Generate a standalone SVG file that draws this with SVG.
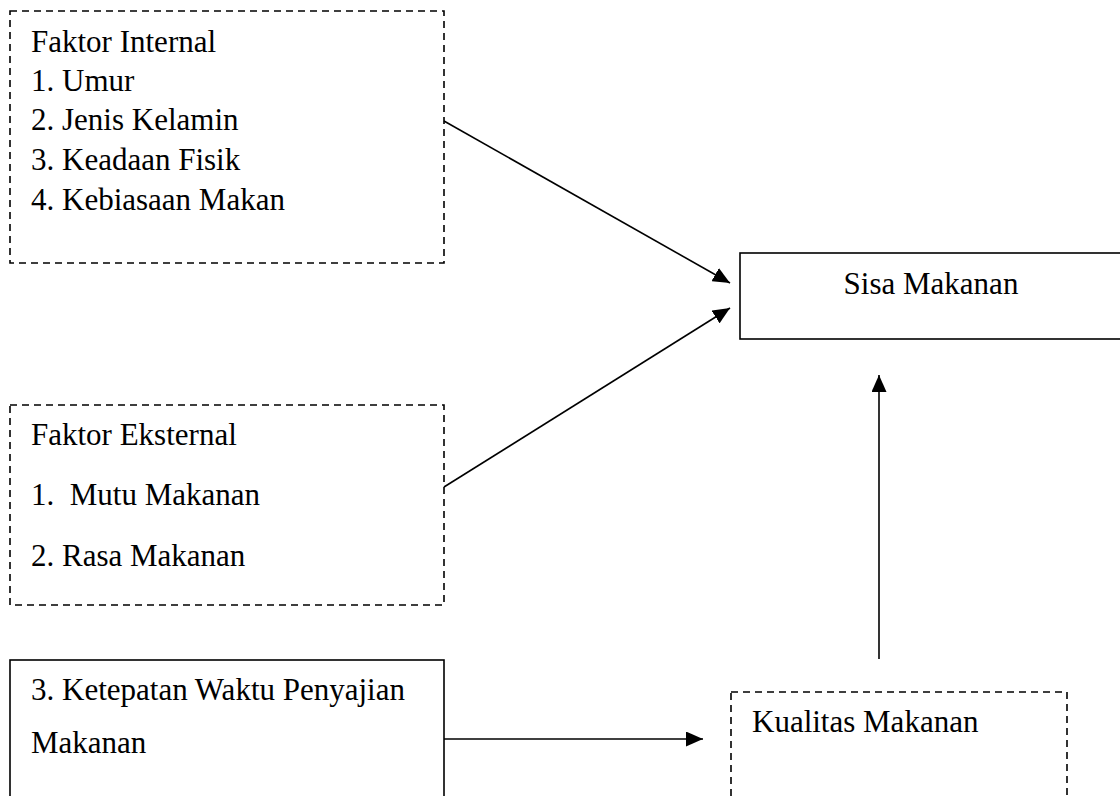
<svg xmlns="http://www.w3.org/2000/svg" width="1120" height="796" viewBox="0 0 1120 796">
<style>
  .t { font-family: "Liberation Serif", "Times New Roman", serif; font-size: 31px; fill: #000; }
  .dash { fill: #fff; stroke: #000; stroke-width: 1.6; stroke-dasharray: 7 5; }
  .solid { fill: #fff; stroke: #000; stroke-width: 1.6; }
  .conn { stroke: #000; stroke-width: 1.6; fill: none; marker-end: url(#ah); }
</style>
<defs>
  <marker id="ah" markerUnits="userSpaceOnUse" markerWidth="17" markerHeight="15" refX="17" refY="7.5" orient="auto">
    <path d="M0,0 L17,7.5 L0,15 z" fill="#000"/>
  </marker>
</defs>
<rect width="1120" height="796" fill="#fff"/>
<g id="faktor-internal">
  <rect class="dash" x="10" y="11" width="434" height="252"/>
  <text class="t" x="31" y="52">Faktor Internal</text>
  <text class="t" x="31" y="91">1. Umur</text>
  <text class="t" x="31" y="130">2. Jenis Kelamin</text>
  <text class="t" x="31" y="170">3. Keadaan Fisik</text>
  <text class="t" x="31" y="210">4. Kebiasaan Makan</text>
</g>
<g id="faktor-eksternal">
  <rect class="dash" x="10" y="405" width="434" height="200"/>
  <text class="t" x="31" y="445">Faktor Eksternal</text>
  <text class="t" x="31" y="505" xml:space="preserve">1.  Mutu Makanan</text>
  <text class="t" x="31" y="566">2. Rasa Makanan</text>
</g>
<g id="ketepatan-waktu">
  <rect class="solid" x="10" y="660" width="434" height="160"/>
  <text class="t" x="31" y="700">3. Ketepatan Waktu Penyajian</text>
  <text class="t" x="31" y="753">Makanan</text>
</g>
<g id="sisa-makanan">
  <rect class="solid" x="740" y="253" width="384" height="86"/>
  <text class="t" x="931" y="294" text-anchor="middle">Sisa Makanan</text>
</g>
<g id="kualitas-makanan">
  <rect class="dash" x="731" y="692" width="336" height="130"/>
  <text class="t" x="752" y="732">Kualitas Makanan</text>
</g>
<g id="connectors">
  <line class="conn" x1="444" y1="121" x2="730" y2="283"/>
  <line class="conn" x1="444" y1="487" x2="730" y2="308"/>
  <line class="conn" x1="879" y1="659" x2="879" y2="375"/>
  <line class="conn" x1="444" y1="739" x2="703" y2="739"/>
</g>
</svg>
